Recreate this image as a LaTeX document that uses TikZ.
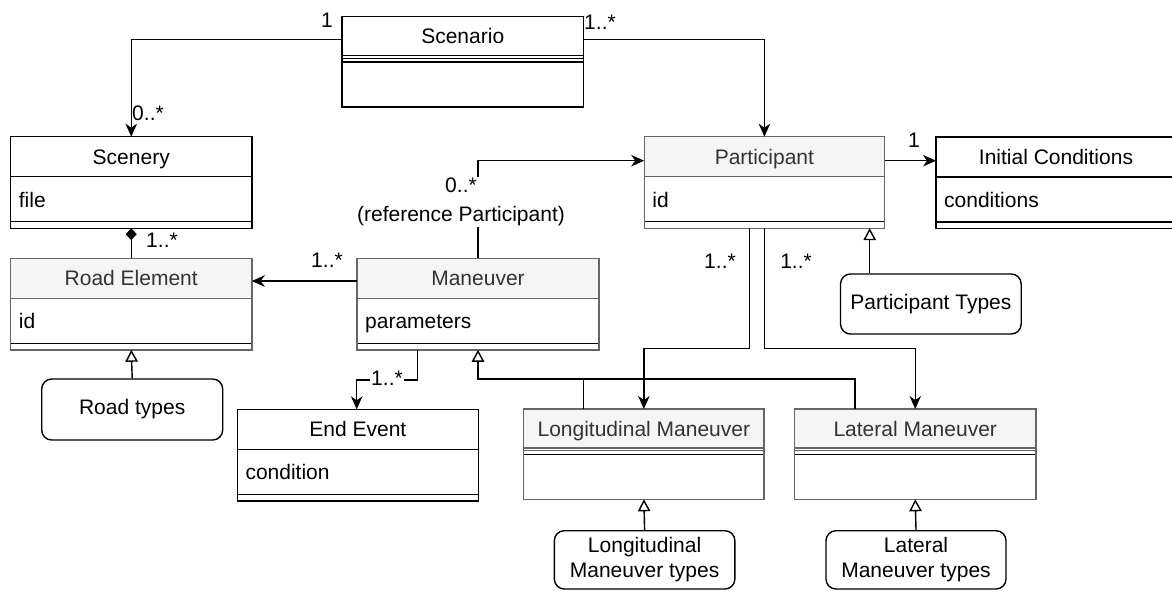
\documentclass[tikz,border=0pt]{standalone}
\usepackage{fontspec}
\setmainfont{Liberation Sans}
\usetikzlibrary{arrows.meta,calc}
\definecolor{graybd}{HTML}{666666}
\definecolor{grayfill}{HTML}{F5F5F5}
\definecolor{graytxt}{HTML}{333333}
\tikzset{
  boxnode/.style={draw=none, inner sep=0pt, outer sep=0pt},
  boxline/.style={line width=1.4pt},
  bd-plain/.style={draw=black},
  bd-gray/.style={draw=graybd},
  hd-plain/.style={fill=white},
  hd-gray/.style={fill=grayfill},
  tx-plain/.style={text=black},
  tx-gray/.style={text=graytxt},
  txt/.style={font=\fontsize{21}{25}\selectfont, inner sep=0pt},
  lbl/.style={font=\fontsize{21}{28.5}\selectfont, inner sep=1.5pt},
  conn/.style={line width=1.4pt, draw=black},
  assoc/.style={conn, -{Stealth[length=13pt,width=11.5pt,inset=4pt]}},
  inherit/.style={conn, -{Triangle[open,length=12pt,width=12.5pt,fill=white]}},
  compos/.style={conn, {Diamond[length=12pt,width=11pt]}-},
  typebox/.style={draw=black, line width=1.4pt, rounded corners=10pt, align=center,
    font=\fontsize{21}{25}\selectfont, anchor=north west, inner sep=0pt},
}
\newcommand{\clsA}[7]{%
  \node[boxnode, minimum width={#4-#2}, minimum height=91.5, anchor=north west] (#1) at (#2,#3) {};
  \fill[hd-#7] (#2,#3) rectangle (#4,#3+40);
  \draw[bd-#7, boxline] (#2,#3+40) -- (#4,#3+40);
  \draw[black, boxline] (#2,#3+85) -- (#4,#3+85);
  \draw[bd-#7, boxline] (#2,#3) rectangle (#4,#3+91.5);
  \node[txt, tx-#7, anchor=base] (#1-title) at ({(#2+#4)/2},#3+27.5) {#5};
  \node[txt, anchor=base west] (#1-attr) at (#2+8,#3+70.5) {#6};
}
\newcommand{\clsB}[6]{%
  \node[boxnode, minimum width={#4-#2}, minimum height=90.3, anchor=north west] (#1) at (#2,#3) {};
  \fill[hd-#6] (#2,#3) rectangle (#4,#3+39);
  \draw[bd-#6, boxline] (#2,#3+39) -- (#4,#3+39);
  \draw[bd-#6, line width=0.7pt] (#2,#3+41.5) -- (#4,#3+41.5);
  \draw[black, boxline] (#2,#3+45.3) -- (#4,#3+45.3);
  \draw[bd-#6, boxline] (#2,#3) rectangle (#4,#3+90.3);
  \node[txt, tx-#6, anchor=base] (#1-title) at ({(#2+#4)/2},#3+27) {#5};
}
\begin{document}
\begin{tikzpicture}[x=1pt, y=-1pt]
\useasboundingbox (0,0) rectangle (1172,590);
\clip (0,0) rectangle (1172,590);
\fill[white] (0,0) rectangle (1172,590);

% classes
\clsB{scenario}{342}{16.7}{583.5}{Scenario}{plain}
\clsA{scenery}{10.7}{136.7}{251.8}{Scenery}{file}{plain}
\clsA{participant}{644.2}{136.7}{884.6}{Participant}{id}{gray}
\clsA{initial}{936}{137}{1176}{Initial Conditions}{conditions}{plain}
\clsA{roadel}{10.7}{258.3}{251.8}{Road Element}{id}{gray}
\clsA{maneuver}{357}{258.3}{599}{Maneuver}{parameters}{gray}
\clsA{endevent}{237.3}{409.3}{478.4}{End Event}{condition}{plain}
\clsB{longm}{523.7}{409}{764}{Longitudinal Maneuver}{gray}
\clsB{latm}{794.7}{409}{1035.8}{Lateral Maneuver}{gray}

% type boxes
\node[typebox, minimum width=181, minimum height=61] (roadtypes) at (41,378.3) {Road types};
\node[typebox, minimum width=180.7, minimum height=60] (parttypes) at (839.8,273.3) {Participant Types};
\node[typebox, minimum width=180.6, minimum height=58.3] (longtypes) at (553.6,530) {Longitudinal\\Maneuver types};
\node[typebox, minimum width=180, minimum height=58.3] (lattypes) at (825.3,530) {Lateral\\Maneuver types};

\coordinate (inhY) at (0,379);

% connectors
\draw[assoc] ($(scenario.north west)+(0,22.6)$) -| (scenery.north);
\draw[assoc] ($(scenario.north east)+(0,22.6)$) -| (participant.north);
\draw[assoc] ($(participant.north east)+(0,24)$) -- ($(initial.north west)+(0,23.7)$);
\draw[assoc] (maneuver.north) |- ($(participant.north west)+(0,24)$);
\draw[assoc] ($(maneuver.north west)+(0,22.7)$) -- ($(roadel.north east)+(0,22.7)$);
\draw[compos] (scenery.south) -- (roadel.north);
\draw[inherit] (roadtypes.north) -- (roadel.south);
\draw[assoc] ($(maneuver.south west)+(60.7,0)$) -- ++(0,30) -| ($(endevent.north west)+(119.4,0)$);
\draw[inherit] ($(longm.north west)+(59.8,0)$) |- (maneuver.south |- inhY) -- (maneuver.south);
\draw[conn] ($(latm.north west)+(60.1,0)$) |- (maneuver.south |- inhY);
\draw[assoc] ($(participant.south)+(-14.9,0)$) -- ++(0,120) -| (longm.north);
\draw[assoc] (participant.south) -- ++(0,120) -| (latm.north);
\draw[inherit] ($(parttypes.north west)+(29.9,0)$) -- ($(participant.south east)+(-14.9,0)$);
\draw[inherit] (longtypes.north) -- (longm.south);
\draw[inherit] (lattypes.north) -- (latm.south);

% multiplicity labels
\node[lbl] (m1) at (327,20) {1};
\node[lbl] (m2) at (600,22) {1..*};
\node[lbl] (m3) at (148,113) {0..*};
\node[lbl] (m4) at (162,240) {1..*};
\node[lbl] (m5) at (914,140) {1};
\node[lbl, fill=white, align=center] (m6) at (461,202) {0..*\\(reference Participant)};
\node[lbl] (m7) at (327,260) {1..*};
\node[lbl, fill=white] (m8) at (387,378) {1..*};
\node[lbl] (m9) at (720,261) {1..*};
\node[lbl] (m10) at (796,261) {1..*};
\end{tikzpicture}
\end{document}
